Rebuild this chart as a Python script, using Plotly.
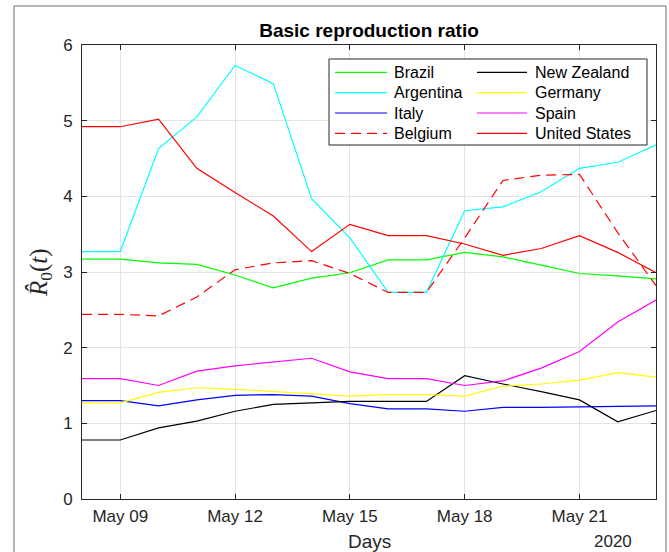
import plotly.graph_objects as go

# Daily estimates of the basic reproduction ratio, 8-23 May 2020
dates = ["2020-05-%02d" % d for d in range(8, 24)]

brazil = [3.17, 3.17, 3.12, 3.10, 2.96, 2.79, 2.92, 2.99, 3.16, 3.16, 3.26, 3.20, 3.09, 2.98, 2.95, 2.91]
argentina = [3.27, 3.27, 4.63, 5.05, 5.73, 5.49, 3.97, 3.45, 2.73, 2.73, 3.81, 3.86, 4.06, 4.37, 4.45, 4.68]
italy = [1.30, 1.30, 1.23, 1.31, 1.37, 1.38, 1.36, 1.26, 1.19, 1.19, 1.16, 1.21, 1.21, 1.22, 1.23, 1.23]
belgium = [2.44, 2.44, 2.42, 2.67, 3.03, 3.12, 3.15, 2.98, 2.73, 2.73, 3.45, 4.21, 4.28, 4.29, 3.52, 2.82]
new_zealand = [0.78, 0.78, 0.94, 1.03, 1.16, 1.25, 1.27, 1.29, 1.29, 1.29, 1.63, 1.52, 1.42, 1.31, 1.02, 1.17]
germany = [1.27, 1.27, 1.41, 1.47, 1.45, 1.42, 1.39, 1.36, 1.38, 1.38, 1.36, 1.49, 1.52, 1.57, 1.67, 1.61]
spain = [1.59, 1.59, 1.50, 1.69, 1.76, 1.81, 1.86, 1.68, 1.59, 1.59, 1.50, 1.56, 1.73, 1.95, 2.34, 2.63]
united_states = [4.92, 4.92, 5.02, 4.37, 4.05, 3.74, 3.27, 3.63, 3.48, 3.48, 3.37, 3.22, 3.31, 3.48, 3.26, 2.99]

tick_dates = ["2020-05-09", "2020-05-12", "2020-05-15", "2020-05-18", "2020-05-21"]
tick_text = ["May 09", "May 12", "May 15", "May 18", "May 21"]
y_ticks = [0, 1, 2, 3, 4, 5, 6]

# (name, values, colour, dash) - listed column by column as in the key
series = [
    ("Brazil", brazil, "#00ff00", "solid"),
    ("Argentina", argentina, "#00ffff", "solid"),
    ("Italy", italy, "#0000ff", "solid"),
    ("Belgium", belgium, "#ff0000", "10px,6px"),
    ("New Zealand", new_zealand, "#000000", "solid"),
    ("Germany", germany, "#ffff00", "solid"),
    ("Spain", spain, "#ff00ff", "solid"),
    ("United States", united_states, "#ff0000", "solid"),
]

FONT = "Liberation Sans, Arial, Helvetica, sans-serif"
INK = "#262626"

# plot-area geometry in pixels, used to place the key and frame
W, H = 669, 552
L, R, T, B = 82, 13, 45, 53
PX0, PX1 = L, W - R
PY0, PY1 = T, H - B


def px_x(px):
    return (px - PX0) / (PX1 - PX0)


def px_y(py):
    return (PY1 - py) / (PY1 - PY0)


fig = go.Figure()
for name, vals, color, dash in series:
    fig.add_trace(go.Scatter(
        x=dates, y=vals, name=name, mode="lines",
        line=dict(color=color, width=1.2, dash=dash),
        showlegend=False,
    ))

axis_common = dict(
    showline=True, linecolor=INK, linewidth=1, mirror="ticks",
    ticks="inside", ticklen=5, tickcolor=INK,
    showgrid=True, gridcolor="#e3e3e3", gridwidth=1,
    zeroline=False,
    tickfont=dict(family=FONT, size=17, color=INK),
)

fig.update_xaxes(
    type="date", range=["2020-05-08", "2020-05-23"],
    tickvals=tick_dates, ticktext=tick_text, ticklabelstandoff=2,
    **axis_common,
)
fig.update_yaxes(
    range=[0, 6], tickvals=y_ticks, ticklabelstandoff=5,
    **axis_common,
)

# two-column key: frame, sample lines and names
shapes = [
    dict(type="rect", xref="paper", yref="paper",
         x0=px_x(329), x1=px_x(647), y0=px_y(145), y1=px_y(59),
         line=dict(color=INK, width=1), fillcolor="white", layer="above"),
    # outer figure frame
    dict(type="rect", xref="paper", yref="paper",
         x0=px_x(14), x1=px_x(666), y0=px_y(600), y1=px_y(6),
         line=dict(color="#6e6e6e", width=1), fillcolor="rgba(0,0,0,0)"),
]
annotations = []
row_y = [72.3, 92.7, 113.0, 133.3]
col_line = [(335, 387), (477, 527)]
col_text = [392, 533]
for i, (name, _, color, dash) in enumerate(series):
    col, row = divmod(i, 4)
    yy = px_y(row_y[row])
    shapes.append(dict(
        type="line", xref="paper", yref="paper",
        x0=px_x(col_line[col][0]), x1=px_x(col_line[col][1]), y0=yy, y1=yy,
        line=dict(color=color, width=1.2, dash=dash), layer="above",
    ))
    annotations.append(dict(
        text=name, xref="paper", yref="paper", x=px_x(col_text[col]), y=yy,
        showarrow=False, xanchor="left", yanchor="middle",
        font=dict(family=FONT, size=16, color="#000000"),
    ))

annotations += [
    dict(text="<i>R\u0302</i><sub>0</sub>(<i>t</i>)", xref="paper", yref="paper",
         x=px_x(40), y=px_y(273), textangle=-90, showarrow=False,
         xanchor="center", yanchor="middle",
         font=dict(family="Liberation Serif, DejaVu Serif, serif", size=25, color=INK)),
    dict(text="Days", xref="paper", yref="paper", x=0.5, y=px_y(541),
         showarrow=False, xanchor="center", yanchor="middle",
         font=dict(family=FONT, size=19, color=INK)),
    dict(text="2020", xref="paper", yref="paper", x=px_x(613), y=px_y(541),
         showarrow=False, xanchor="center", yanchor="middle",
         font=dict(family=FONT, size=17, color=INK)),
]

fig.update_layout(
    width=W, height=H,
    margin=dict(l=L, r=R, t=T, b=B),
    paper_bgcolor="white", plot_bgcolor="white",
    title=dict(
        text="<b>Basic reproduction ratio</b>",
        font=dict(family=FONT, size=19, color="#000000"),
        x=0.5, xref="paper", xanchor="center",
        y=1 - 30 / H, yanchor="middle",
    ),
    shapes=shapes,
    annotations=annotations,
    showlegend=False,
)

fig.write_html("out.html")
